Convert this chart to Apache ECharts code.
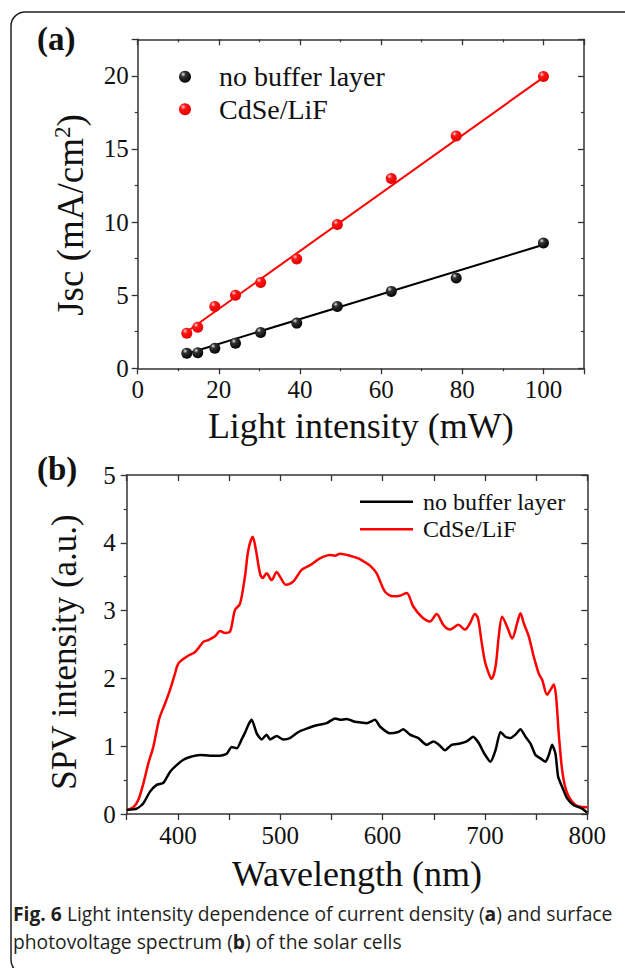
<!DOCTYPE html>
<html><head><meta charset="utf-8">
<script src="https://cdn.jsdelivr.net/npm/echarts@6/dist/echarts.min.js"></script>
<style>html,body{margin:0;padding:0;background:#fff}#c{width:625px;height:968px}</style>
</head><body><div id="c"></div>
<script>
// ---- Panel (a) data ----
const lightIntensity = [12.1, 14.8, 19.0, 24.1, 30.3, 39.2, 49.2, 62.5, 78.5, 100];
const jscNoBuffer   = [1.03, 1.07, 1.37, 1.71, 2.45, 3.09, 4.23, 5.26, 6.17, 8.57];
const jscCdSeLiF    = [2.40, 2.81, 4.23, 5.00, 5.87, 7.47, 9.83, 12.98, 15.89, 19.95];
const fitNoBufferX = [12.1, 100];
const fitNoBufferY = [1.00, 8.45];
const fitCdSeLiFX  = [12.1, 100];
const fitCdSeLiFY  = [2.50, 19.90];
// ---- Panel (b) data ----
const wlCdSeLiF = [350,356.5,361.4,366.3,371.2,376,381.9,387.5,392.3,397.2,400.5,408.6,416.8,424.9,428.8,436.3,441.2,446,451,455.8,460.7,465.5,468.8,473.1,476.3,480.2,482.8,486.7,491.6,496.5,499.8,505.6,512.8,520.9,529.1,538.8,548.6,553.5,558.4,568.1,576.3,582,588,594.2,602.3,610.5,617,623.5,630,638.1,646.3,652.8,659.3,665.8,674,680.5,685.3,690.2,693.3,696.6,700,703.8,706.4,710.3,713.5,716.8,721.7,726.6,731.4,734.7,738,742.8,747.7,752.6,755.9,760.7,764,767.3,769.5,772.1,775.4,779.3,785.2,791.7,800];
const spvCdSeLiF = [0.06,0.10,0.21,0.45,0.75,0.99,1.41,1.63,1.83,2.07,2.22,2.32,2.39,2.54,2.56,2.62,2.70,2.67,2.69,3.01,3.10,3.50,3.89,4.09,3.89,3.55,3.48,3.55,3.45,3.57,3.50,3.38,3.43,3.60,3.67,3.77,3.82,3.81,3.84,3.81,3.77,3.72,3.66,3.55,3.28,3.21,3.22,3.26,3.06,2.91,2.84,2.95,2.79,2.72,2.79,2.72,2.81,2.95,2.88,2.55,2.25,2.07,1.99,2.17,2.62,2.91,2.76,2.59,2.81,2.96,2.81,2.62,2.32,2.07,1.98,1.76,1.83,1.91,1.73,1.19,0.65,0.35,0.18,0.11,0.10];
const wlNoBuffer = [350,359.8,366.3,372.8,379.3,385.8,392.3,398.8,405.4,411.9,421.6,431.4,441.2,447.7,452.6,457.5,462.3,465.6,469,472.1,477,481.9,486.7,490,496.5,503,509.5,517.7,525.8,535.6,545.4,553.5,558.4,564.9,573,579,584.4,592.6,597.4,607.2,615.3,620.2,626.7,634.9,643,649.5,654.4,660.9,667.4,675.6,682.1,688.6,691.9,695,699,705.4,710.3,715.2,720,724.9,729.8,734.7,739.6,744.5,749.4,754.2,759.1,762.4,765.6,768.9,771.5,775.4,780.3,786.8,794.9,800];
const spvNoBuffer = [0.06,0.08,0.16,0.33,0.43,0.46,0.62,0.72,0.80,0.84,0.87,0.86,0.86,0.89,0.99,0.97,1.10,1.20,1.32,1.39,1.19,1.10,1.17,1.10,1.15,1.10,1.12,1.21,1.26,1.31,1.34,1.41,1.39,1.40,1.36,1.35,1.34,1.39,1.29,1.19,1.21,1.25,1.17,1.12,1.02,1.07,1.03,0.94,1.02,1.04,1.07,1.14,1.09,1.02,0.90,0.77,0.94,1.21,1.14,1.12,1.17,1.25,1.14,1.04,0.87,0.82,0.77,0.87,1.02,0.89,0.55,0.40,0.23,0.13,0.08,0.02];
// ---- Labels ----
const seriesNames = ['no buffer layer', 'CdSe/LiF'];
const xTitleA = 'Light intensity (mW)';
const yTitleA = '{n|Jsc (mA/cm}{s|2}{n|)}';
const xTitleB = 'Wavelength (nm)';
const yTitleB = 'SPV intensity (a.u.)';
const panelLabels = ['(a)', '(b)'];
const captionText = '{b|Fig. 6} Light intensity dependence of current density ({b|a}) and surface\nphotovoltage spectrum ({b|b}) of the solar cells';

const zip = (xs, ys) => xs.map((x, i) => [x, ys[i]]);
const SERIF = 'Liberation Serif, Times New Roman, serif';
const SANS = 'Open Sans, Noto Sans, sans-serif';
const AX = '#333';
const TXT = '#111';

function axisBase(extra) {
  return Object.assign({
    type: 'value',
    axisLine: { show: true, onZero: false, lineStyle: { color: AX, width: 1.5 } },
    axisTick: { show: true, length: 6, lineStyle: { color: AX, width: 1.3 } },
    minorTick: { show: false },
    splitLine: { show: false },
    nameMoveOverlap: false,
    axisLabel: { fontFamily: SERIF, fontSize: 25, color: TXT, margin: 9 },
    nameTextStyle: { fontFamily: SERIF, fontSize: 36, color: TXT }
  }, extra);
}
function mirror(base, pos) {
  const m = JSON.parse(JSON.stringify(base));
  m.position = pos;
  m.axisTick.inside = true;
  m.axisLabel = { show: false };
  delete m.name;
  return m;
}
const minor = { show: true, splitNumber: 2, length: 3, lineStyle: { color: AX, width: 1.2 } };

const xa = axisBase({ gridIndex: 0, min: 0, max: 110, interval: 20, position: 'bottom',
  minorTick: minor, name: xTitleA, nameLocation: 'middle', nameGap: 40 });
xa.axisLabel.showMaxLabel = false;
const ya = axisBase({ gridIndex: 0, min: 0, max: 22.5, interval: 5, position: 'left', minorTick: minor });
ya.axisLabel.showMaxLabel = false;
const xb = axisBase({ gridIndex: 1, min: 350, max: 800, interval: 50, position: 'bottom',
  name: xTitleB, nameLocation: 'middle', nameGap: 42 });
xb.axisLabel.formatter = v => (v % 100 === 0 ? String(v) : '');
const yb = axisBase({ gridIndex: 1, min: 0, max: 5, interval: 1, position: 'left', minorTick: minor });
yb.axisLabel.margin = 11;

const xa2 = mirror(xa, 'top'), ya2 = mirror(ya, 'right');
const xb2 = mirror(xb, 'top'), yb2 = mirror(yb, 'right');

const ballBlack = { type: 'radial', x: 0.35, y: 0.3, r: 0.75,
  colorStops: [{ offset: 0, color: '#e8e8e8' }, { offset: 0.28, color: '#333' }, { offset: 1, color: '#000' }] };
const ballRed = { type: 'radial', x: 0.35, y: 0.3, r: 0.75,
  colorStops: [{ offset: 0, color: '#ffd0d0' }, { offset: 0.3, color: '#ff1515' }, { offset: 1, color: '#e00000' }] };

const option = {
  animation: false,
  backgroundColor: '#fff',
  grid: [
    { left: 137.7, right: 41, top: 39.3, bottom: 599.7, outerBoundsMode: 'none' },
    { left: 126.7, right: 37.7, top: 475, bottom: 154, outerBoundsMode: 'none' }
  ],
  xAxis: [xa, xa2, xb, xb2],
  yAxis: [ya, ya2, yb, yb2],
  legend: [
    { data: seriesNames, orient: 'vertical', left: 179, top: 62.7, padding: 0, itemWidth: 12, itemHeight: 12, itemGap: 4.6,
      selectedMode: false,
      textStyle: { fontFamily: SERIF, fontSize: 28, color: TXT, lineHeight: 28, padding: [0, 0, 0, 23] } },
    { data: seriesNames.map(n => ({ name: n + ' (b)', icon: 'rect' })), orient: 'vertical', left: 360, top: 488.7, padding: 0,
      itemWidth: 53, itemHeight: 2.5, itemGap: 1.6,
      selectedMode: false, formatter: n => n.replace(' (b)', ''),
      textStyle: { fontFamily: SERIF, fontSize: 24, color: TXT, lineHeight: 26, padding: [0, 0, 0, 5] } }
  ],
  series: [
    { name: 'fit ' + seriesNames[0], type: 'line', xAxisIndex: 0, yAxisIndex: 0, data: zip(fitNoBufferX, fitNoBufferY),
      symbol: 'none', lineStyle: { color: '#000', width: 2 }, z: 2 },
    { name: 'fit ' + seriesNames[1], type: 'line', xAxisIndex: 0, yAxisIndex: 0, data: zip(fitCdSeLiFX, fitCdSeLiFY),
      symbol: 'none', lineStyle: { color: '#ff0000', width: 2 }, z: 2 },
    { name: seriesNames[0], type: 'scatter', xAxisIndex: 0, yAxisIndex: 0, data: zip(lightIntensity, jscNoBuffer),
      symbol: 'circle', symbolSize: 11, itemStyle: { color: ballBlack, opacity: 1 }, z: 3 },
    { name: seriesNames[1], type: 'scatter', xAxisIndex: 0, yAxisIndex: 0, data: zip(lightIntensity, jscCdSeLiF),
      symbol: 'circle', symbolSize: 11, itemStyle: { color: ballRed, opacity: 1 }, z: 3 },
    { name: seriesNames[0] + ' (b)', type: 'line', xAxisIndex: 2, yAxisIndex: 2, data: zip(wlNoBuffer, spvNoBuffer),
      symbol: 'none', showSymbol: false, smooth: 0.2, color: '#000', itemStyle: { color: '#000' },
      lineStyle: { color: '#000', width: 2.5 }, z: 3 },
    { name: seriesNames[1] + ' (b)', type: 'line', xAxisIndex: 2, yAxisIndex: 2, data: zip(wlCdSeLiF, spvCdSeLiF),
      symbol: 'none', showSymbol: false, smooth: 0.3, color: '#ff0000', itemStyle: { color: '#ff0000' },
      lineStyle: { color: '#ff0000', width: 2.5 }, z: 2 }
  ],
  graphic: [
    { type: 'rect', shape: { x: 11, y: 12, width: 700, height: 962, r: 14 }, style: { fill: 'none', stroke: '#222', lineWidth: 1.5 }, silent: true, z: -1 },
    { type: 'text', left: 37, top: 22, style: { text: panelLabels[0], font: 'bold 33px ' + SERIF, fill: TXT } },
    { type: 'text', left: 37, top: 452, style: { text: panelLabels[1], font: 'bold 33px ' + SERIF, fill: TXT } },
    { type: 'text', x: 70, y: 215, rotation: Math.PI / 2, style: {
        text: yTitleA, align: 'center', verticalAlign: 'middle',
        rich: {
          n: { fontFamily: SERIF, fontSize: 37, fill: TXT, lineHeight: 38 },
          s: { fontFamily: SERIF, fontSize: 23, fill: TXT, verticalAlign: 'top', lineHeight: 38 }
        } } },
    { type: 'text', x: 64, y: 652, rotation: Math.PI / 2, style: {
        text: yTitleB, align: 'center', verticalAlign: 'middle',
        fontFamily: SERIF, fontSize: 35, fill: TXT } },
    { type: 'text', left: 13, top: 899, style: {
        text: captionText, fontFamily: SANS, fontSize: 19.3, lineHeight: 28, fill: '#231f20',
        rich: { b: { fontFamily: SANS, fontSize: 19.3, fontWeight: 'bold', fill: '#231f20', lineHeight: 28 } } } }
  ]
};
const chart = echarts.init(document.getElementById('c'), null, { renderer: 'svg' });
chart.setOption(option);
</script></body></html>
